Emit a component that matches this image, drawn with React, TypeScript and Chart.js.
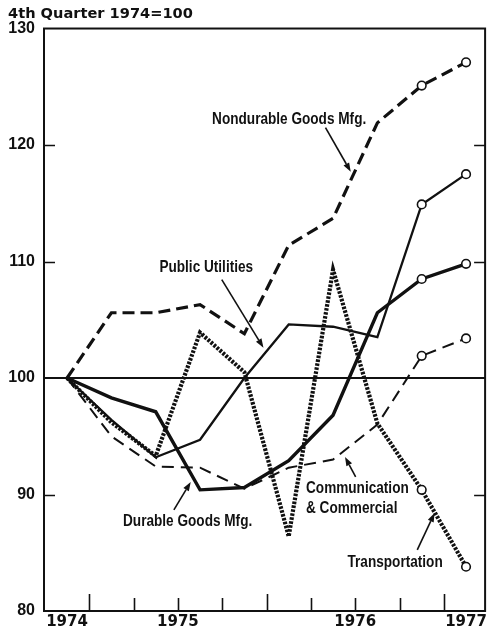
import React, { useEffect, useRef } from "react";
import { Chart, registerables } from "chart.js";

Chart.register(...registerables);

// Quarters: 4th quarter 1974 through 1st quarter 1977
const quarters = [
  "Q4 1974", "Q1 1975", "Q2 1975", "Q3 1975", "Q4 1975",
  "Q1 1976", "Q2 1976", "Q3 1976", "Q4 1976", "Q1 1977",
];
const yearLabels = ["1974", "1975", "1976", "1977"];
const yearLabelPositions = [0, 2.5, 6.5, 9];
const quarterBoundaries = [0.5, 1.5, 2.5, 3.5, 4.5, 5.5, 6.5, 7.5, 8.5];
const yearBoundaries = [0.5, 4.5, 8.5];
const sideTickValues = [90, 110, 120];
const title = "4th Quarter 1974=100";

const nondurable = [100, 105.6, 105.6, 106.3, 103.8, 111.4, 113.7, 121.9, 125.1, 127.1];
const publicUtilities = [100, 96.4, 93.2, 94.7, 100, 104.6, 104.4, 103.5, 114.9, 117.5];
const durable = [100, 98.3, 97.1, 90.4, 90.6, 92.9, 96.8, 105.6, 108.5, 109.8];
const communication = [100, 95.0, 92.4, 92.3, 90.5, 92.3, 93.0, 96.0, 101.9, 103.4];
const transportation = [100, 96.2, 93.3, 103.9, 100.5, 86.4, 109.3, 96.1, 90.4, 83.8];

// annotation labels (anchored in data units) with leader arrows
const annotations = [
  { lines: ["Nondurable Goods Mfg."], x: 5.01, y: 122.2, align: "center", from: [5.83, 121.5], to: [6.4, 117.7] },
  { lines: ["Public Utilities"], x: 3.14, y: 109.47, align: "center", from: [3.49, 108.44], to: [4.43, 102.6] },
  { lines: ["Durable Goods Mfg."], x: 2.72, y: 87.73, align: "center", from: [2.41, 88.68], to: [2.79, 91.08] },
  { lines: ["Communication", "& Commercial"], x: 5.39, y: 89.71, align: "left", from: [6.51, 91.51], to: [6.27, 93.23] },
  { lines: ["Transportation"], x: 7.4, y: 84.21, align: "center", from: [7.9, 85.24], to: [8.29, 88.42] },
];

const INK = "#111";
const LABEL_FONT = "bold 17px 'Liberation Sans', 'DejaVu Sans', sans-serif";
const LABEL_SQUEEZE = 0.8;
const AXIS_FONT_FAMILY = "'DejaVu Sans', sans-serif";

const toPoints = (vals: number[]) => vals.map((v, i) => ({ x: i, y: v }));
const endMarkers = (vals: number[]) => vals.map((_, i) => (i >= vals.length - 2 ? 4.3 : 0));

const decorPlugin = {
  id: "decor",
  beforeDatasetsDraw(chart: any) {
    const { ctx, chartArea, scales } = chart;
    const xs = scales.x;
    const ys = scales.y;
    ctx.save();
    ctx.strokeStyle = INK;
    ctx.lineWidth = 1.6;
    ctx.beginPath();
    quarterBoundaries.forEach((q) => {
      const px = Math.round(xs.getPixelForValue(q)) + 0.5;
      const len = yearBoundaries.includes(q) ? 17 : 13;
      ctx.moveTo(px, chartArea.bottom);
      ctx.lineTo(px, chartArea.bottom - len);
    });
    sideTickValues.forEach((v) => {
      const py = Math.round(ys.getPixelForValue(v)) + 0.5;
      ctx.moveTo(chartArea.left, py);
      ctx.lineTo(chartArea.left + 11, py);
      ctx.moveTo(chartArea.right, py);
      ctx.lineTo(chartArea.right - 11, py);
    });
    ctx.stroke();
    // frame
    ctx.lineWidth = 2;
    ctx.strokeRect(chartArea.left, chartArea.top, chartArea.right - chartArea.left, chartArea.bottom - chartArea.top);
    ctx.restore();
  },
  afterDatasetsDraw(chart: any) {
    const { ctx, scales } = chart;
    const xs = scales.x;
    const ys = scales.y;
    ctx.save();
    ctx.fillStyle = INK;
    ctx.strokeStyle = INK;
    ctx.font = LABEL_FONT;
    ctx.textBaseline = "middle";
    annotations.forEach((a) => {
      const cx = xs.getPixelForValue(a.x);
      const cy = ys.getPixelForValue(a.y);
      const lh = 20;
      ctx.textAlign = a.align as CanvasTextAlign;
      a.lines.forEach((line, i) => {
        const yy = cy + (i - (a.lines.length - 1) / 2) * lh;
        ctx.save();
        ctx.translate(cx, yy);
        ctx.scale(LABEL_SQUEEZE, 1);
        ctx.fillText(line, 0, 0);
        ctx.restore();
      });
      const x1 = xs.getPixelForValue(a.from[0]);
      const y1 = ys.getPixelForValue(a.from[1]);
      const x2 = xs.getPixelForValue(a.to[0]);
      const y2 = ys.getPixelForValue(a.to[1]);
      const ang = Math.atan2(y2 - y1, x2 - x1);
      const hl = 9;
      const hw = 3.2;
      const bx = x2 - hl * Math.cos(ang);
      const by = y2 - hl * Math.sin(ang);
      ctx.lineWidth = 1.6;
      ctx.beginPath();
      ctx.moveTo(x1, y1);
      ctx.lineTo(bx, by);
      ctx.stroke();
      ctx.beginPath();
      ctx.moveTo(x2, y2);
      ctx.lineTo(bx + hw * Math.sin(ang), by - hw * Math.cos(ang));
      ctx.lineTo(bx - hw * Math.sin(ang), by + hw * Math.cos(ang));
      ctx.closePath();
      ctx.fill();
    });
    ctx.restore();
  },
};

export default function App() {
  const canvasRef = useRef<HTMLCanvasElement | null>(null);

  useEffect(() => {
    if (!canvasRef.current) return;
    const common = {
      fill: false,
      tension: 0,
      pointBackgroundColor: "#fff",
      pointBorderColor: INK,
      pointBorderWidth: 1.6,
      borderColor: INK,
      borderCapStyle: "butt" as const,
      borderJoinStyle: "miter" as const,
    };
    const chart = new Chart(canvasRef.current, {
      type: "line",
      data: {
        labels: quarters,
        datasets: [
          {
            ...common,
            label: "Communication & Commercial",
            data: toPoints(communication),
            borderWidth: 2,
            borderDash: [12, 7],
            pointRadius: endMarkers(communication),
          },
          {
            ...common,
            label: "Transportation",
            data: toPoints(transportation),
            borderWidth: 4.2,
            borderDash: [2.6, 1.4],
            pointRadius: endMarkers(transportation),
          },
          {
            ...common,
            label: "Public Utilities",
            data: toPoints(publicUtilities),
            borderWidth: 2.3,
            pointRadius: endMarkers(publicUtilities),
          },
          {
            ...common,
            label: "Durable Goods Mfg.",
            data: toPoints(durable),
            borderWidth: 3.4,
            pointRadius: endMarkers(durable),
          },
          {
            ...common,
            label: "Nondurable Goods Mfg.",
            data: toPoints(nondurable),
            borderWidth: 3.2,
            borderDash: [12, 6],
            pointRadius: endMarkers(nondurable),
          },
        ],
      },
      options: {
        animation: false,
        responsive: true,
        maintainAspectRatio: false,
        layout: { padding: { left: 8, right: 3, top: 0, bottom: 0 } },
        plugins: {
          legend: { display: false },
          tooltip: { enabled: false },
          title: {
            display: true,
            text: title,
            align: "start",
            color: INK,
            font: { family: AXIS_FONT_FAMILY, weight: "bold", size: 14.6, lineHeight: 1.2 },
            padding: { top: 5, bottom: 6 },
          },
        },
        scales: {
          x: {
            type: "linear",
            min: -0.52,
            max: 9.43,
            afterBuildTicks: (axis: any) => {
              axis.ticks = yearLabelPositions.map((v) => ({ value: v }));
            },
            afterFit: (scale: any) => {
              scale.height = 25;
            },
            ticks: {
              autoSkip: false,
              maxRotation: 0,
              padding: 2,
              color: INK,
              font: { family: AXIS_FONT_FAMILY, weight: "bold", size: 15 },
              callback: (value: any) => {
                const idx = yearLabelPositions.indexOf(Number(value));
                return idx >= 0 ? yearLabels[idx] : "";
              },
            },
            grid: { display: false, drawTicks: false },
            border: { display: true, color: INK, width: 2 },
          },
          y: {
            min: 80,
            max: 130,
            afterFit: (scale: any) => {
              scale.width = 36;
            },
            ticks: {
              stepSize: 10,
              padding: 9,
              color: INK,
              font: { family: "'Liberation Sans', sans-serif", weight: "bold", size: 16 },
            },
            grid: {
              drawTicks: false,
              color: (c: any) => (c.tick && c.tick.value === 100 ? INK : "rgba(0,0,0,0)"),
              lineWidth: (c: any) => (c.tick && c.tick.value === 100 ? 2 : 0),
            },
            border: { display: true, color: INK, width: 2 },
          },
        },
      },
      plugins: [decorPlugin],
    } as any);
    return () => chart.destroy();
  }, []);

  return (
    <div style={{ position: "absolute", left: 0, top: 0, width: 491, height: 636, background: "#fff" }}>
      <canvas ref={canvasRef} />
    </div>
  );
}
